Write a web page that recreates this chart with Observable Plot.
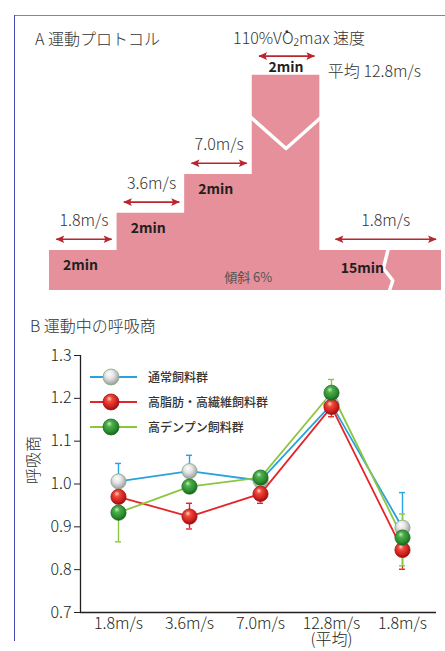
<!DOCTYPE html>
<html><head><meta charset="utf-8">
<script src="https://cdn.jsdelivr.net/npm/d3@7"></script>
<script src="https://cdn.jsdelivr.net/npm/@observablehq/plot@0.6"></script>
<style>
html,body{margin:0;padding:0;background:#fff;}
#root{position:relative;width:445px;height:651px;overflow:hidden;font-family:"Noto Sans CJK JP","Noto Sans",sans-serif;color:#231f20;}
.abs{position:absolute;}
#frameTop{left:14px;top:15px;width:431px;height:0;border-top:1.5px solid #8080c8;}
#frameLeft{left:14px;top:15px;width:0;height:626px;border-left:1.5px solid #4a4ab4;}
.head{font-size:16px;line-height:20px;white-space:nowrap;font-weight:300;color:#333;}
.leg{font-size:12px;line-height:16px;white-space:nowrap;font-weight:500;color:#333;}
</style></head><body>
<svg width="0" height="0" style="position:absolute">
  <defs>
    <radialGradient id="gGray" cx="45%" cy="40%" r="60%" fx="38%" fy="28%">
      <stop offset="0%" stop-color="#ffffff"/>
      <stop offset="45%" stop-color="#e4e4e4"/>
      <stop offset="100%" stop-color="#9c9c9c"/>
    </radialGradient>
    <radialGradient id="gRed" cx="45%" cy="40%" r="60%" fx="38%" fy="28%">
      <stop offset="0%" stop-color="#ffd2c4"/>
      <stop offset="30%" stop-color="#ef4a3a"/>
      <stop offset="75%" stop-color="#cc1e1e"/>
      <stop offset="100%" stop-color="#8c1010"/>
    </radialGradient>
    <radialGradient id="gGreen" cx="45%" cy="40%" r="60%" fx="38%" fy="28%">
      <stop offset="0%" stop-color="#c8ebbe"/>
      <stop offset="30%" stop-color="#4caf4a"/>
      <stop offset="75%" stop-color="#2a8a30"/>
      <stop offset="100%" stop-color="#17601c"/>
    </radialGradient>
  </defs>
</svg>
<div id="root">
  <div id="plotA" class="abs" style="left:0;top:0"></div>
  <div id="plotB" class="abs" style="left:0;top:330px"></div>
  <div class="abs head" style="left:35px;top:28px">A 運動プロトコル</div>
  <div class="abs head" style="left:30px;top:315px">B 運動中の呼吸商</div>
  <div id="legend"></div>
  <div id="frameTop" class="abs"></div>
  <div id="frameLeft" class="abs"></div>
</div>
<script>
// ---------- Panel A: exercise protocol ----------
const stageSpeeds = ["1.8m/s", "3.6m/s", "7.0m/s", "12.8m/s", "1.8m/s"];
const stageDurations = ["2min", "2min", "2min", "2min", "15min"];
const stageLevels = [1, 1.93, 2.9, 5.38, 1];      // schematic step heights
const stageSpans = [1, 1, 1, 1, 1.8];             // schematic step widths
const peakTitle = "110%V\u0307O\u2082max 速度";
const peakAvgPrefix = "平均 ";
const inclineLabel = "傾斜 6%";

// ---------- Panel B: respiratory quotient ----------
const speedLabels = ["1.8m/s", "3.6m/s", "7.0m/s", "12.8m/s", "1.8m/s"];
const avgNote = "(平均)";
const avgIndex = 3;
const groups = ["通常飼料群", "高脂肪・高繊維飼料群", "高デンプン飼料群"];
const rqNormal   = [1.006, 1.030, 1.008, 1.186, 0.898];
const rqFatFiber = [0.970, 0.924, 0.977, 1.180, 0.846];
const rqStarch   = [0.933, 0.994, 1.015, 1.213, 0.875];
// visible error-bar ends (null = hidden)
const errNormalHi   = [1.048, 1.067, null, null, 0.980];
const errNormalLo   = [null, null, null, null, null];
const errFatFiberHi = [null, 0.955, null, null, null];
const errFatFiberLo = [null, 0.895, 0.955, 1.157, 0.801];
const errStarchHi   = [null, null, null, 1.244, 0.930];
const errStarchLo   = [0.865, null, null, null, 0.809];
const yTicks = [0.7, 0.8, 0.9, 1.0, 1.1, 1.2, 1.3];

const pink = "#e5909a";
const arrowColor = "#b8262f";
const font = '"Noto Sans CJK JP","Noto Sans",sans-serif';

// build stages
let acc = 0;
const stages = stageSpeeds.map((s, i) => {
  const x1 = acc; acc += stageSpans[i];
  return {i, speed: s, dur: stageDurations[i], level: stageLevels[i], x1, x2: acc};
});
const last = stages[stages.length - 1];
const peak = stages[3];
const outline = stages.map(d => ({x: d.x1, y: d.level})).concat([{x: last.x2, y: last.level}]);
const vBreak = [
  {x: peak.x1 - 0.02, y: peak.level - 1.05},
  {x: (peak.x1 + peak.x2) / 2, y: peak.level - 1.83},
  {x: peak.x2 + 0.02, y: peak.level - 1.05}
];
const bx = last.x1 + 0.98;
const zBreak = [
  {x: bx + 0.04, y: last.level + 0.1},
  {x: bx - 0.04, y: last.level * 0.55},
  {x: bx + 0.1, y: last.level * 0.25},
  {x: bx + 0.03, y: -0.1}
];
const arrows = stages.map(d => {
  const isPeak = d.i === 3, isLast = d.i === stages.length - 1;
  return {
    i: d.i,
    x1: d.x1 + (isLast ? 0.23 : 0.1),
    x2: d.x2 - 0.08,
    y: d.level + (isPeak ? 0.48 : 0.28),
    speed: d.speed
  };
});
const speedArrows = arrows.filter(a => a.i !== 3);

const plotA = Plot.plot({
  width: 445, height: 310,
  margin: 0,
  style: {background: "transparent", fontFamily: font, overflow: "visible"},
  x: {type: "linear", domain: [0, 5.8], range: [49, 441], axis: null},
  y: {type: "linear", domain: [0, 6], range: [290, 50], axis: null},
  marks: [
    Plot.areaY(outline, {x: "x", y: "y", curve: "step-after", fill: pink}),
    Plot.line(vBreak, {x: "x", y: "y", stroke: "white", strokeWidth: 3.5}),
    Plot.line(zBreak, {x: "x", y: "y", stroke: "white", strokeWidth: 3.5, strokeLinejoin: "miter"}),
    Plot.link(arrows, {x1: "x1", x2: "x2", y1: "y", y2: "y", stroke: arrowColor, strokeWidth: 1.6,
      markerStart: "arrow", markerEnd: "arrow"}),
    Plot.text(speedArrows, {x: d => (d.x1 + d.x2) / 2, y: "y", text: "speed", dy: -18,
      fontSize: 16, fontWeight: 300, fill: "#333"}),
    // duration labels
    Plot.text(stages.filter(d => d.i < 3), {x: d => d.x1 + 0.46, y: "level", text: "dur", dy: 15,
      fontSize: 14, fontWeight: 700, fill: "#231f20"}),
    Plot.text([peak], {x: d => (d.x1 + d.x2) / 2, y: "level", text: "dur", dy: -8,
      fontSize: 14, fontWeight: 700, fill: "#231f20"}),
    Plot.text([last], {x: d => d.x1 + 0.63, y: "level", text: "dur", dy: 18,
      fontSize: 14, fontWeight: 700, fill: "#231f20"}),
    // peak annotations
    Plot.text([peak], {x: d => (d.x1 + d.x2) / 2, y: "level", text: () => peakTitle, dx: 13, dy: -36,
      fontSize: 16, fontWeight: 300, fill: "#333"}),
    Plot.text([peak], {x: "x2", y: "level", text: d => peakAvgPrefix + d.speed, dx: 8, dy: -3,
      textAnchor: "start", fontSize: 16, fontWeight: 300, fill: "#333"}),
    Plot.text([stages[2]], {x: "x2", y: d => stages[0].level, text: () => inclineLabel, dx: -4, dy: 27,
      fontSize: 13, fill: "#555"})
  ]
});
// filled double-headed arrow heads
plotA.querySelectorAll("marker").forEach(m => {
  m.setAttribute("viewBox", "-9 -4.5 10 9");
  m.setAttribute("markerUnits", "userSpaceOnUse");
  m.setAttribute("markerWidth", "10");
  m.setAttribute("markerHeight", "9");
  m.setAttribute("orient", "auto-start-reverse");
  m.setAttribute("fill", arrowColor);
  m.setAttribute("stroke", "none");
  const p = m.querySelector("path");
  if (p) p.setAttribute("d", "M-8,-3.8L0.6,0L-8,3.8L-6.3,0Z");
});
document.getElementById("plotA").appendChild(plotA);

// ---------- Panel B plot ----------
const series = [
  {name: groups[0], vals: rqNormal, hi: errNormalHi, lo: errNormalLo, line: "#2aa2dc", grad: "url(#gGray)", edge: "#7fae7f"},
  {name: groups[1], vals: rqFatFiber, hi: errFatFiberHi, lo: errFatFiberLo, line: "#e3262b", grad: "url(#gRed)", edge: "#a51515"},
  {name: groups[2], vals: rqStarch, hi: errStarchHi, lo: errStarchLo, line: "#8cc63f", grad: "url(#gGreen)", edge: "#1f6e25"}
];
const lineMarks = [], errMarks = [], dotMarks = [];
series.forEach(s => {
  const pts = s.vals.map((v, i) => ({i, v}));
  lineMarks.push(Plot.line(pts, {x: "i", y: "v", stroke: s.line, strokeWidth: 1.8}));
  const errs = [];
  s.vals.forEach((v, i) => {
    if (s.hi[i] != null) errs.push({i, v, e: s.hi[i]});
    if (s.lo[i] != null) errs.push({i, v, e: s.lo[i]});
  });
  errMarks.push(Plot.ruleX(errs, {x: "i", y1: "v", y2: "e", stroke: s.line, strokeWidth: 1.4}));
  errMarks.push(Plot.ruleY(errs, {x1: "i", x2: "i", y: "e", stroke: s.line, strokeWidth: 1.4, insetLeft: -3, insetRight: -3}));
  dotMarks.push(Plot.dot(pts, {x: "i", y: "v", r: 7.6, fill: s.grad, stroke: s.edge, strokeWidth: 0.8}));
});

const plotB = Plot.plot({
  width: 445, height: 320,
  marginTop: 25, marginBottom: 38, marginLeft: 80, marginRight: 9,
  style: {background: "transparent", fontFamily: font, fontSize: "16px", fontWeight: 300, color: "#231f20", overflow: "visible"},
  x: {type: "point", domain: speedLabels.map((_, i) => i), range: [118, 402], padding: 0,
      tickFormat: i => (i === avgIndex ? "" : speedLabels[i]),
      tickSize: 0, tickPadding: 5, label: null},
  y: {domain: [0.7, 1.3], ticks: yTicks, tickFormat: d => d.toFixed(1), tickSize: 6, tickPadding: 3, label: null},
  marks: [
    Plot.ruleY([0.7], {stroke: "#231f20", strokeWidth: 1.3}),
    Plot.ruleX([0], {dx: -38, stroke: "#231f20", strokeWidth: 1.3}),
    ...lineMarks,
    ...errMarks,
    ...dotMarks,
    // two-line tick label for the averaged stage
    Plot.text([avgIndex], {x: d => d, frameAnchor: "bottom", text: d => speedLabels[d] + "\n" + avgNote,
      lineAnchor: "top", lineHeight: 1.0, dy: 5, fontSize: 16, fontWeight: 300, fill: "#231f20"}),
    Plot.text(["呼吸商"], {frameAnchor: "left", text: d => d, rotate: -90, dx: -47, fontSize: 16, fill: "#333"})
  ]
});
document.getElementById("plotB").appendChild(plotB);

// ---------- Legend ----------
const legend = document.getElementById("legend");
series.forEach((s, k) => {
  const cy = 377 + k * 25;
  const row = document.createElement("div");
  row.className = "abs";
  row.style.left = "88px"; row.style.top = (cy - 10) + "px";
  row.innerHTML = `<svg width="52" height="20"><line x1="2" x2="49" y1="10" y2="10" stroke="${s.line}" stroke-width="1.8"/>` +
    `<circle cx="23" cy="10" r="8" fill="${s.grad}" stroke="${s.edge}" stroke-width="0.8"/></svg>`;
  legend.appendChild(row);
  const t = document.createElement("div");
  t.className = "abs leg";
  t.style.left = "148px"; t.style.top = (cy - 8) + "px";
  t.textContent = s.name;
  legend.appendChild(t);
});
</script>
</body></html>
